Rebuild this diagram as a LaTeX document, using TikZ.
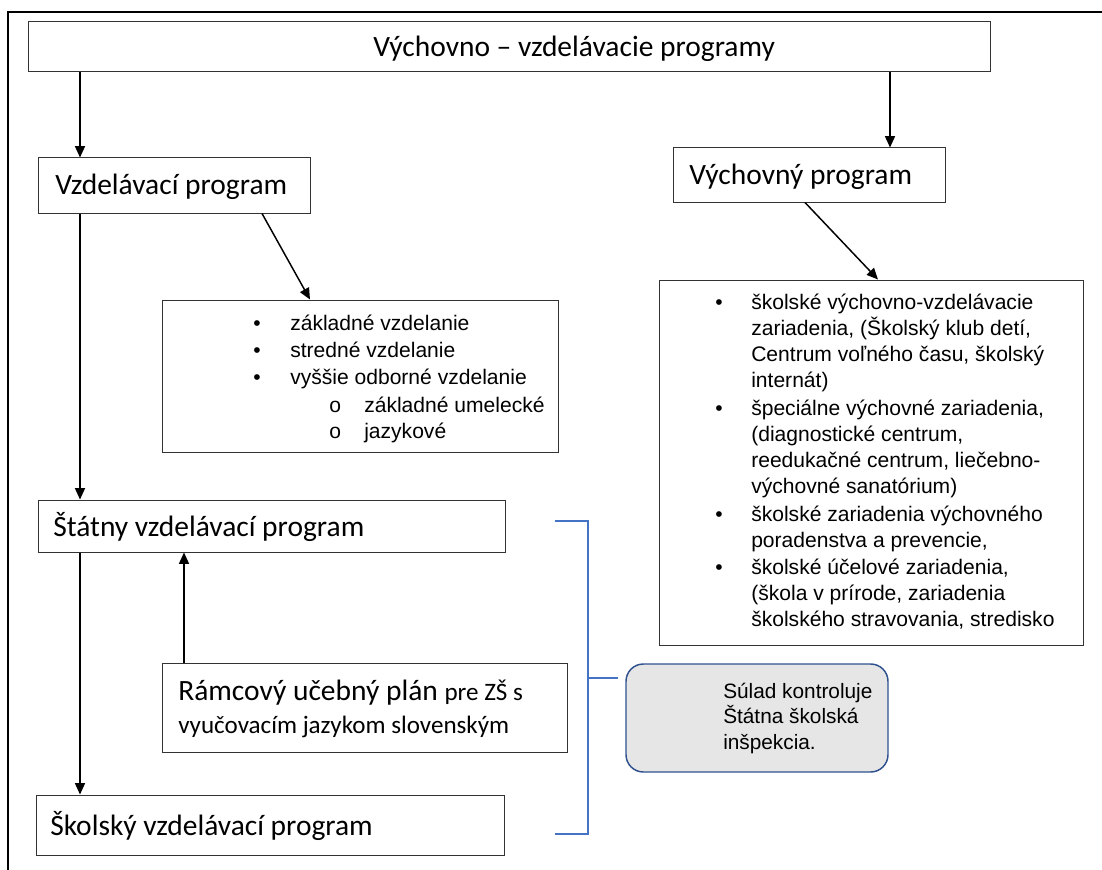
\documentclass[tikz,border=0pt]{standalone}
\usepackage{fontspec}
\setmainfont{Carlito}
\newfontfamily\arialf{Liberation Sans}
\usetikzlibrary{arrows.meta,fit}
\definecolor{bluebr}{HTML}{4472C4}
\definecolor{callbd}{HTML}{2F528F}
\definecolor{callfill}{HTML}{E7E6E6}
\begin{document}
\begin{tikzpicture}[x=0.75pt,y=-0.75pt,
  box/.style={draw=black!80, line width=0.75pt, inner sep=0pt},
  arr/.style={draw=black, line width=1.1pt, -{Triangle[length=8.5pt,width=7.5pt]}},
  lbl/.style={anchor=base west, inner sep=0pt, font=\fontsize{22.1}{26}\selectfont},
  lblsmall/.style={anchor=base west, inner sep=0pt, font=\fontsize{18.8}{22}\selectfont},
  itemtxt/.style={anchor=base west, inner sep=0pt, font=\arialf\fontsize{15.8}{19}\selectfont},
  notetxt/.style={anchor=base west, inner sep=0pt, font=\arialf\fontsize{15.6}{19}\selectfont},
  bracketline/.style={draw=bluebr, line width=0.9pt},
  calloutbox/.style={draw=callbd, fill=callfill, line width=1.1pt, rounded corners=13pt, inner sep=0pt},
  framel/.style={draw=black, line width=1.1pt}]
\useasboundingbox (0,0) rectangle (1102,870);

% outer frame (top and left sides)
\coordinate (fTL) at (8,12);
\coordinate (fTR) at (1102,12);
\coordinate (fBL) at (8,870);
\draw[framel] (fBL) -- (fTL) -- (fTR);

% boxes
\node[box, fit={(28,22) (990,72)}] (top) {};
\node[lbl] (toptxt) at (373,57) {Výchovno – vzdelávacie programy};

\node[box, fit={(38,158) (310,213)}] (vz) {};
\node[lbl] (vztxt) at (55,195) {Vzdelávací program};

\node[box, fit={(673,148) (945,202)}] (vy) {};
\node[lbl] (vytxt) at (689,185) {Výchovný program};

\node[box, fit={(162,300) (558,452)}] (zl) {};
\node[itemtxt] (zb1) at (253,330) {•};
\node[itemtxt] (z1) at (290,330) {základné vzdelanie};
\node[itemtxt] (zb2) at (253,357) {•};
\node[itemtxt] (z2) at (290,357) {stredné vzdelanie};
\node[itemtxt] (zb3) at (253,384) {•};
\node[itemtxt] (z3) at (290,384) {vyššie odborné vzdelanie};
\node[itemtxt] (zo1) at (329,412) {o};
\node[itemtxt] (z4) at (364,412) {základné umelecké};
\node[itemtxt] (zo2) at (329,438) {o};
\node[itemtxt] (z5) at (364,438) {jazykové};

\node[box, fit={(659,280) (1083,645)}] (vl) {};
\node[itemtxt] (vb1) at (715,309) {•};
\node[itemtxt] (v1) at (751,309) {školské výchovno-vzdelávacie};
\node[itemtxt] (v2) at (751,335) {zariadenia, (Školský klub detí,};
\node[itemtxt] (v3) at (751,361) {Centrum voľného času, školský};
\node[itemtxt] (v4) at (751,387) {internát)};
\node[itemtxt] (vb2) at (715,415) {•};
\node[itemtxt] (v5) at (751,415) {špeciálne výchovné zariadenia,};
\node[itemtxt] (v6) at (751,441) {(diagnostické centrum,};
\node[itemtxt] (v7) at (751,467) {reedukačné centrum, liečebno-};
\node[itemtxt] (v8) at (751,493) {výchovné sanatórium)};
\node[itemtxt] (vb3) at (715,521) {•};
\node[itemtxt] (v9) at (751,521) {školské zariadenia výchovného};
\node[itemtxt] (v10) at (751,547) {poradenstva a prevencie,};
\node[itemtxt] (vb4) at (715,574) {•};
\node[itemtxt] (v11) at (751,574) {školské účelové zariadenia,};
\node[itemtxt] (v12) at (751,600) {(škola v prírode, zariadenia};
\node[itemtxt] (v13) at (751,626) {školského stravovania, stredisko};

\node[box, fit={(38,500) (505,552)}] (st) {};
\node[lbl] (sttxt) at (53,536) {Štátny vzdelávací program};

\node[box, fit={(162,663) (567,752)}] (ram) {};
\node[lbl] (ramtxt1) at (178,700) {Rámcový učebný plán \fontsize{18.8}{22}\selectfont pre ZŠ s};
\node[lblsmall] (ramtxt2) at (178,733) {vyučovacím jazykom slovenským};

\node[box, fit={(36,795) (504,855)}] (sk) {};
\node[lbl] (sktxt) at (50,835) {Školský vzdelávací program};

% callout
\node[calloutbox, fit={(626,664) (888,772)}] (call) {};
\node[notetxt] (c1) at (723,698) {Súlad kontroluje};
\node[notetxt] (c2) at (723,723) {Štátna školská};
\node[notetxt] (c3) at (723,749) {inšpekcia.};

% bracket
\coordinate (bt1) at (555,521);
\coordinate (bt2) at (588,521);
\coordinate (bb2) at (588,834);
\coordinate (bb1) at (555,834);
\coordinate (bm) at (588,678);
\coordinate (bmt) at (618,678);
\draw[bracketline] (bt1) -- (bt2) -- (bb2) -- (bb1);
\draw[bracketline] (bm) -- (bmt);

% column coordinates
\coordinate (cL) at (80,0);
\coordinate (cR) at (890,0);
\coordinate (cU) at (184,0);
\coordinate (d1a) at (262,0);
\coordinate (d1b) at (310,0);
\coordinate (d2a) at (805,0);
\coordinate (d2b) at (878,0);

% connectors
\draw[arr] (top.south -| cL) -- (vz.north -| cL);
\draw[arr] (top.south -| cR) -- (vy.north -| cR);
\draw[arr] (vz.south -| d1a) -- (zl.north -| d1b);
\draw[arr] (vy.south -| d2a) -- (vl.north -| d2b);
\draw[arr] (vz.south -| cL) -- (st.north -| cL);
\draw[arr] (st.south -| cL) -- (sk.north -| cL);
\draw[arr] (ram.north -| cU) -- (st.south -| cU);
\end{tikzpicture}
\end{document}
